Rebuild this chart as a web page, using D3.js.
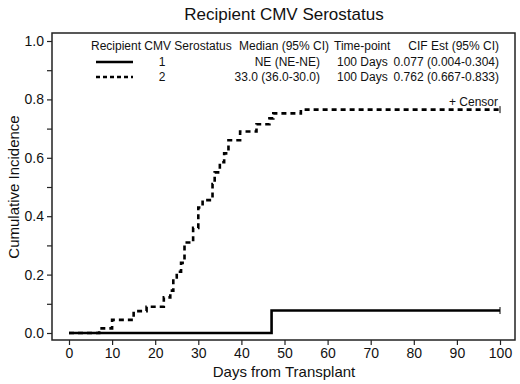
<!DOCTYPE html>
<html>
<head>
<meta charset="utf-8">
<script src="https://cdn.jsdelivr.net/npm/d3@7"></script>
<style>
  body { margin: 0; background: #fff; }
  svg { display: block; font-family: 'Liberation Sans', Arial, sans-serif; }
</style>
</head>
<body>
<svg id="chart" width="520" height="384"></svg>
<script>
// legend table
const groupLabels = ['1', '2'];
const medians = ['NE (NE-NE)', '33.0 (36.0-30.0)'];
const timePoints = ['100 Days', '100 Days'];
const cifEst = ['0.077 (0.004-0.304)', '0.762 (0.667-0.833)'];

// step curves (days, cumulative incidence)
const grp1Days = [0, 47, 100];
const grp1Cif = [0, 0.077, 0.077];
const grp2Days = [0, 7, 10, 15, 18, 22, 23.5, 24.2, 25, 26, 26.8, 28.8, 30, 31, 33.3, 33.8, 35, 36, 37, 39.7, 43.5, 46.5, 47.4, 53.8, 100];
const grp2Cif = [0, 0.016, 0.045, 0.075, 0.09, 0.122, 0.145, 0.19, 0.21, 0.24, 0.31, 0.36, 0.43, 0.455, 0.51, 0.55, 0.585, 0.615, 0.66, 0.69, 0.715, 0.735, 0.752, 0.765, 0.765];

const xTicks = [0, 10, 20, 30, 40, 50, 60, 70, 80, 90, 100];
const yTicks = [0, 0.1, 0.2, 0.3, 0.4, 0.5, 0.6, 0.7, 0.8, 0.9, 1.0];
const yLabelTicks = [0, 0.2, 0.4, 0.6, 0.8, 1.0];

const svg = d3.select('#chart');
const frame = { left: 52, top: 33, right: 515, bottom: 340 };

const x = d3.scaleLinear().domain([0, 100]).range([69, 500]);
const y = d3.scaleLinear().domain([0, 1]).range([333, 41]);

// title
svg.append('text')
  .attr('x', 284).attr('y', 20)
  .attr('text-anchor', 'middle')
  .attr('font-size', 17)
  .attr('fill', '#111')
  .text('Recipient CMV Serostatus');

// axes
const xAxis = svg.append('g')
  .attr('transform', `translate(0,${frame.bottom})`)
  .call(d3.axisBottom(x).tickValues(xTicks).tickSize(5).tickPadding(3).tickFormat(d3.format('d')));
xAxis.select('.domain').remove();
xAxis.selectAll('line').attr('stroke', '#222').attr('stroke-width', 1.2);
xAxis.selectAll('text').attr('font-size', 14).attr('fill', '#111')
  .attr('font-family', "'Liberation Sans', Arial, sans-serif");

const yAxis = svg.append('g')
  .attr('transform', `translate(${frame.left},0)`)
  .call(d3.axisLeft(y).tickValues(yTicks).tickSize(5).tickPadding(3)
    .tickFormat(d => yLabelTicks.some(v => Math.abs(v - d) < 1e-9) ? d3.format('.1f')(d) : ''));
yAxis.select('.domain').remove();
yAxis.selectAll('line').attr('stroke', '#222').attr('stroke-width', 1.2);
yAxis.selectAll('text').attr('font-size', 14).attr('fill', '#111')
  .attr('font-family', "'Liberation Sans', Arial, sans-serif");

// frame box
svg.append('rect')
  .attr('x', frame.left).attr('y', frame.top)
  .attr('width', frame.right - frame.left).attr('height', frame.bottom - frame.top)
  .attr('fill', 'none').attr('stroke', '#222').attr('stroke-width', 1.5);

// axis titles
svg.append('text')
  .attr('x', 284).attr('y', 377)
  .attr('text-anchor', 'middle').attr('font-size', 15).attr('fill', '#111')
  .text('Days from Transplant');
svg.append('text')
  .attr('transform', 'translate(19,187) rotate(-90)')
  .attr('text-anchor', 'middle').attr('font-size', 15).attr('fill', '#111')
  .text('Cumulative Incidence');

// curves
const line = d3.line().curve(d3.curveStepAfter).x(d => x(d[0])).y(d => y(d[1]));
const curves = [
  { days: grp1Days, cif: grp1Cif, dash: null },
  { days: grp2Days, cif: grp2Cif, dash: '5,4' }
];
curves.forEach(c => {
  const pts = c.days.map((d, i) => [d, c.cif[i]]);
  svg.append('path')
    .attr('d', line(pts))
    .attr('fill', 'none')
    .attr('stroke', '#000')
    .attr('stroke-width', 2.6)
    .attr('stroke-dasharray', c.dash);
  // censor mark at the end
  const last = pts[pts.length - 1];
  svg.append('line')
    .attr('x1', x(last[0])).attr('x2', x(last[0]))
    .attr('y1', y(last[1]) - 3.5).attr('y2', y(last[1]) + 3.5)
    .attr('stroke', '#000').attr('stroke-width', 1);
});

// censor legend
svg.append('text')
  .attr('x', 449).attr('y', 106)
  .attr('font-size', 12).attr('fill', '#111')
  .text('+ Censor');

// legend table
const lg = svg.append('g').attr('font-size', 12).attr('fill', '#111');
const headY = 50;
lg.append('text').attr('x', 91).attr('y', headY).text('Recipient CMV Serostatus');
lg.append('text').attr('x', 239).attr('y', headY).text('Median (95% CI)');
lg.append('text').attr('x', 334).attr('y', headY).text('Time-point');
lg.append('text').attr('x', 499).attr('y', headY).attr('text-anchor', 'end').text('CIF Est (95% CI)');

const rowY = [66, 81];
groupLabels.forEach((g, i) => {
  const ry = rowY[i];
  lg.append('line')
    .attr('x1', 96).attr('x2', 133)
    .attr('y1', ry - 4).attr('y2', ry - 4)
    .attr('stroke', '#000').attr('stroke-width', 2.6)
    .attr('stroke-dasharray', curves[i].dash ? '4,3' : null);
  lg.append('text').attr('x', 162).attr('y', ry).attr('text-anchor', 'middle').text(g);
  lg.append('text').attr('x', 320).attr('y', ry).attr('text-anchor', 'end').text(medians[i]);
  lg.append('text').attr('x', 337).attr('y', ry).text(timePoints[i]);
  lg.append('text').attr('x', 499).attr('y', ry).attr('text-anchor', 'end').text(cifEst[i]);
});
</script>
</body>
</html>
